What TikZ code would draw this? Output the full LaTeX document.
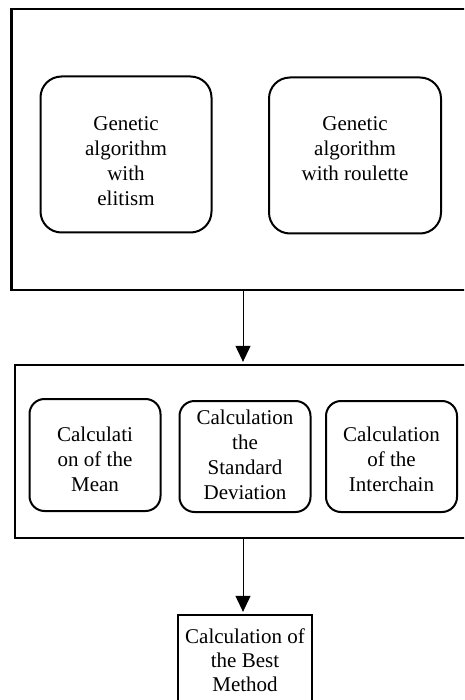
\documentclass[tikz,border=0pt]{standalone}
\usepackage{fontspec}
\setmainfont{Liberation Serif}
\usetikzlibrary{arrows.meta}

\begin{document}
\begin{tikzpicture}[x=1pt,y=1pt,yscale=-1,xscale=1,
  outerbox/.style={draw, line width=2.3pt, inner sep=0pt},
  roundbox/.style={draw, line width=2pt, inner sep=0pt, align=center, font=\fontsize{21}{25}\selectfont},
  txt/.style={align=center, inner sep=0pt, font=\fontsize{21}{25}\selectfont},
  flow/.style={line width=1pt, -{Triangle[width=15pt,length=16pt]}, shorten >=2pt}]
%set diagram to 464 x 700, the outer boxes run off the right and bottom edges
\path [use as bounding box, clip] (0,0) rectangle (464,700);

%Shape: Rectangle [id:stage1]
\node [outerbox, minimum width=463pt, minimum height=281pt] (stage1) at (243,149.5) {};
%Shape: Rounded Rect [id:elit]
\node [roundbox, rounded corners=21pt, minimum width=171pt, minimum height=156pt] (elit) at (126,154.5) {};
\node [txt] (elittxt) at (126,161) {Genetic\\algorithm\\with\\elitism};
%Shape: Rounded Rect [id:roul]
\node [roundbox, rounded corners=21pt, minimum width=172pt, minimum height=156pt] (roul) at (355,155.5) {};
\node [txt] (roultxt) at (355,148.5) {Genetic\\algorithm\\with roulette};

%Shape: Rectangle [id:stage2]
\node [outerbox, minimum width=456pt, minimum height=173pt] (stage2) at (243,451.5) {};
%Shape: Rounded Rect [id:mean]
\node [roundbox, rounded corners=15pt, minimum width=131pt, minimum height=112pt] (mean) at (95,455) {};
\node [txt] (meantxt) at (95,459) {Calculati\\on of the\\Mean};
%Shape: Rounded Rect [id:stdev]
\node [roundbox, rounded corners=15pt, minimum width=131pt, minimum height=111pt] (stdev) at (245,456.5) {};
\node [txt] (stdevtxt) at (245,454.5) {Calculation\\the\\Standard\\Deviation};
%Shape: Rounded Rect [id:inter]
\node [roundbox, rounded corners=15pt, minimum width=131pt, minimum height=111pt] (inter) at (391.5,456.5) {};
\node [txt] (intertxt) at (391.5,459) {Calculation\\of the\\Interchain};

%Shape: Rectangle [id:best]
\node [outerbox, minimum width=134pt, minimum height=110pt] (best) at (245,670) {};
\node [txt, font=\fontsize{21}{24}\selectfont] (besttxt) at (245,660.5) {Calculation of\\the Best\\Method};

%Straight Lines [id:arr1]
\draw [flow] (stage1.south) -- (stage2.north);
%Straight Lines [id:arr2]
\draw [flow] (stage2.south) -- (stage2.south |- best.north);

\end{tikzpicture}
\end{document}
